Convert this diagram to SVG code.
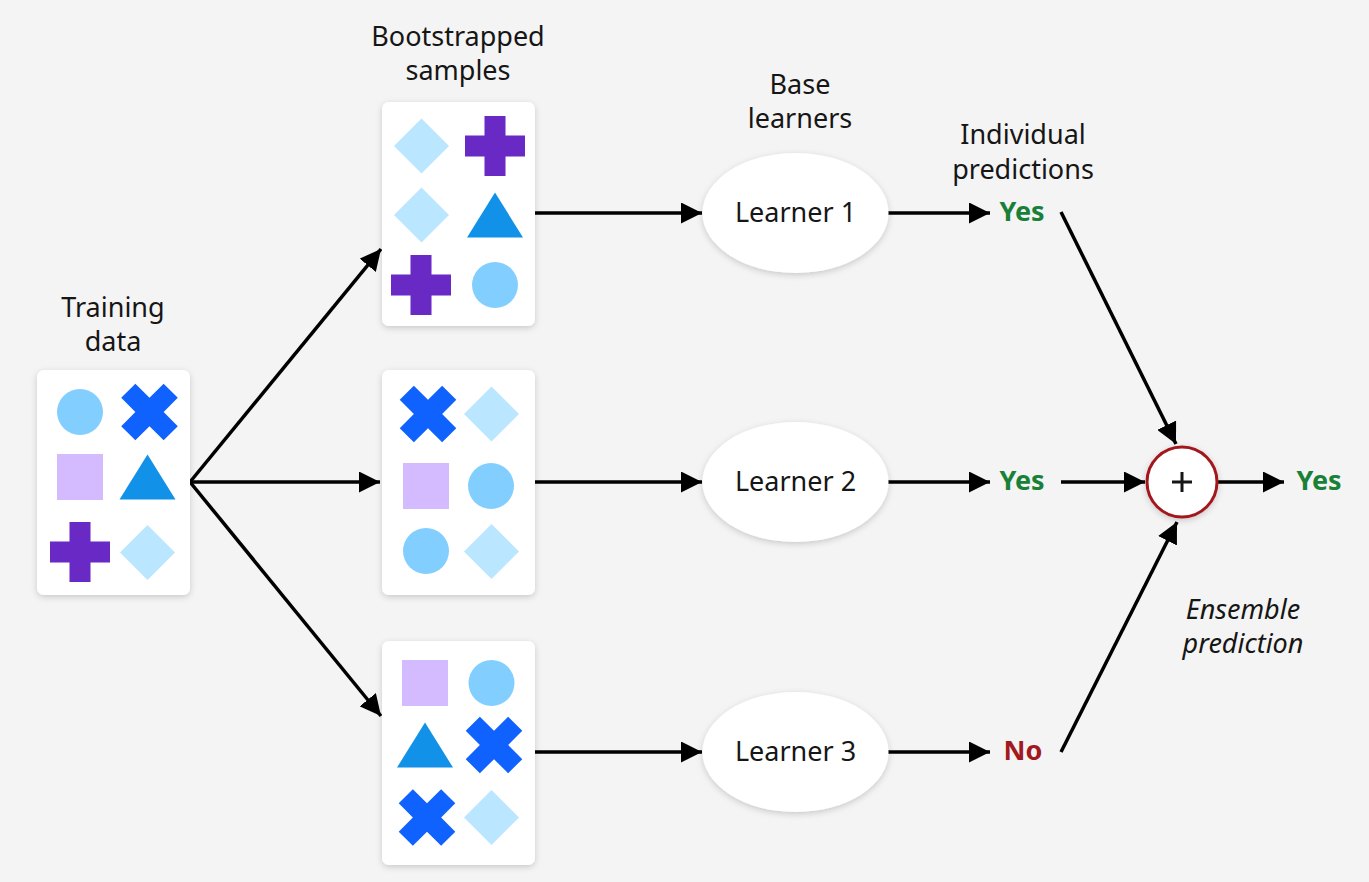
<svg xmlns="http://www.w3.org/2000/svg" xmlns:xlink="http://www.w3.org/1999/xlink" width="1369" height="882" viewBox="0 0 1369 882">
<style>
.lbl{font-family:"Noto Sans","Open Sans","Liberation Sans",sans-serif;font-size:27px;fill:#161616;text-anchor:middle}
.ital{font-style:italic}
.yes{font-family:"Noto Sans","Liberation Sans",sans-serif;font-size:27px;font-weight:bold;fill:#198038;text-anchor:middle}
.no{font-family:"Noto Sans","Liberation Sans",sans-serif;font-size:27px;font-weight:bold;fill:#a2191f;text-anchor:middle}
.box{fill:#ffffff;filter:url(#sh)}
.ell{fill:#ffffff;filter:url(#sh)}
.conn{stroke:#000;stroke-width:3.5;fill:none;marker-end:url(#ah)}
.ci{fill:#82cfff}
.xx{fill:#0f62fe}
.sq{fill:#d4bbff}
.tr{fill:#1192e8}
.pl{fill:#6929c4}
.di{fill:#bae6ff}
</style>
<defs>
<filter id="sh" x="-20%" y="-20%" width="140%" height="140%">
<feDropShadow dx="0" dy="2" stdDeviation="3" flood-color="#000" flood-opacity="0.18"/>
</filter>
<marker id="ah" markerUnits="userSpaceOnUse" markerWidth="21" markerHeight="21" refX="21" refY="10.5" orient="auto">
<path d="M0,0 L21,10.5 L0,21 z" fill="#000"/>
</marker>
<circle id="s-ci" class="ci" r="23"/>
<rect id="s-sq" class="sq" x="-23" y="-23" width="46" height="46"/>
<polygon id="s-tr" class="tr" points="0,-22.5 28,22.5 -28,22.5"/>
<path id="s-pl" class="pl" d="M-10.5,-30 h21 v19.5 h19.5 v21 h-19.5 v19.5 h-21 v-19.5 h-19.5 v-21 h19.5 z"/>
<path id="s-xx" class="xx" transform="rotate(45)" d="M-10,-30 h20 v20 h20 v20 h-20 v20 h-20 v-20 h-20 v-20 h20 z"/>
<polygon id="s-di" class="di" points="0,-27.5 27.5,0 0,27.5 -27.5,0"/>
</defs>
<rect width="1369" height="882" fill="#f4f4f4"/>

<g id="connectors">
<line class="conn" x1="190" y1="482" x2="381" y2="249"/>
<line class="conn" x1="190" y1="482" x2="380" y2="482"/>
<line class="conn" x1="190" y1="482" x2="381" y2="716"/>
<line class="conn" x1="535" y1="213" x2="702" y2="213"/>
<line class="conn" x1="535" y1="482" x2="702" y2="482"/>
<line class="conn" x1="535" y1="752" x2="702" y2="752"/>
<line class="conn" x1="888" y1="213" x2="990" y2="213"/>
<line class="conn" x1="888" y1="482" x2="990" y2="482"/>
<line class="conn" x1="888" y1="752" x2="990" y2="752"/>
<line class="conn" x1="1061" y1="212" x2="1176" y2="444"/>
<line class="conn" x1="1061" y1="482" x2="1145" y2="482"/>
<line class="conn" x1="1061" y1="752" x2="1177" y2="522"/>
<line class="conn" x1="1218" y1="482" x2="1284" y2="482"/>
</g>

<g id="training">
<rect class="box" x="37" y="370" width="153" height="225" rx="7"/>
<use xlink:href="#s-ci" x="80" y="412"/>
<use xlink:href="#s-xx" x="149.5" y="412"/>
<use xlink:href="#s-sq" x="80" y="477"/>
<use xlink:href="#s-tr" x="147.5" y="477"/>
<use xlink:href="#s-pl" x="80" y="552"/>
<use xlink:href="#s-di" x="147.5" y="552.5"/>
<text class="lbl" x="113" y="317">Training</text>
<text class="lbl" x="113" y="351">data</text>
</g>

<g id="sample1">
<rect class="box" x="382" y="102" width="153" height="224" rx="7"/>
<use xlink:href="#s-di" x="421.5" y="146"/>
<use xlink:href="#s-pl" x="495" y="146"/>
<use xlink:href="#s-di" x="421.5" y="215"/>
<use xlink:href="#s-tr" x="495" y="215"/>
<use xlink:href="#s-pl" x="421" y="285"/>
<use xlink:href="#s-ci" x="495" y="285"/>
<text class="lbl" x="458" y="46">Bootstrapped</text>
<text class="lbl" x="458" y="80">samples</text>
</g>

<g id="sample2">
<rect class="box" x="382" y="370" width="153" height="225" rx="7"/>
<use xlink:href="#s-xx" x="428" y="414"/>
<use xlink:href="#s-di" x="491.5" y="414"/>
<use xlink:href="#s-sq" x="426" y="486"/>
<use xlink:href="#s-ci" x="491" y="486"/>
<use xlink:href="#s-ci" x="426" y="551"/>
<use xlink:href="#s-di" x="491.5" y="551.5"/>
</g>

<g id="sample3">
<rect class="box" x="382" y="641" width="153" height="224" rx="7"/>
<use xlink:href="#s-sq" x="425" y="683"/>
<use xlink:href="#s-ci" x="491.5" y="683"/>
<use xlink:href="#s-tr" x="425" y="745"/>
<use xlink:href="#s-xx" x="494" y="745"/>
<use xlink:href="#s-xx" x="427" y="817.5"/>
<use xlink:href="#s-di" x="491.5" y="817.5"/>
</g>

<g id="learner1">
<ellipse class="ell" cx="795.5" cy="213" rx="93" ry="60"/>
<text class="lbl" x="795.5" y="222">Learner 1</text>
<text class="lbl" x="800" y="94">Base</text>
<text class="lbl" x="800" y="128">learners</text>
</g>
<g id="learner2">
<ellipse class="ell" cx="795.5" cy="482" rx="93" ry="60"/>
<text class="lbl" x="795.5" y="491">Learner 2</text>
</g>
<g id="learner3">
<ellipse class="ell" cx="795.5" cy="752" rx="93" ry="60"/>
<text class="lbl" x="795.5" y="761">Learner 3</text>
</g>

<g id="pred1">
<text class="lbl" x="1023" y="144">Individual</text>
<text class="lbl" x="1023" y="179">predictions</text>
<text class="yes" x="1022" y="221">Yes</text>
</g>
<g id="pred2"><text class="yes" x="1022" y="490">Yes</text></g>
<g id="pred3"><text class="no" x="1023" y="760">No</text></g>

<g id="ensemble">
<circle cx="1182" cy="482" r="35" fill="#ffffff" stroke="#a2191f" stroke-width="3" filter="url(#sh)"/>
<path d="M1172,482 h20 M1182,472 v20" stroke="#161616" stroke-width="3"/>
<text class="lbl ital" x="1243" y="619">Ensemble</text>
<text class="lbl ital" x="1243" y="653">prediction</text>
</g>
<g id="final"><text class="yes" x="1319" y="490">Yes</text></g>
</svg>
